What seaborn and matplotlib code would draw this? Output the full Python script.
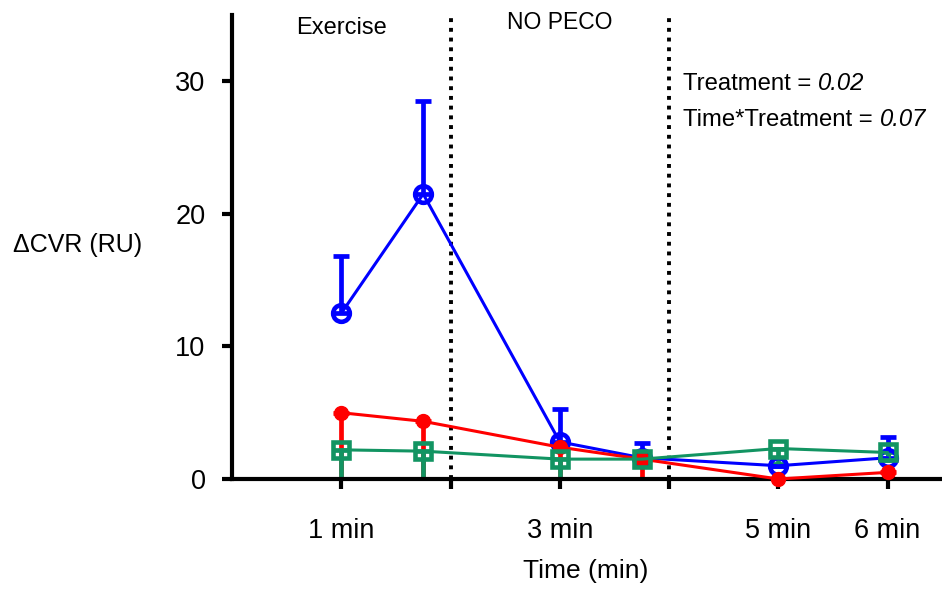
import numpy as np
import pandas as pd
import matplotlib
matplotlib.use("Agg")
import matplotlib.pyplot as plt
import seaborn as sns

# Time points (min) and tick labels
time = [1, 1.75, 3, 3.75, 5, 6]
tick_pos = [1, 2, 3, 4, 5, 6]
tick_labels = ["1 min", "", "3 min", "", "5 min", "6 min"]

# Mean change in CVR per condition, with one-sided error bars
blue_mean = [12.5, 21.5, 2.8, 1.6, 1.0, 1.6]
blue_err_up = [4.3, 7.0, 2.5, 1.1, 0.0, 1.6]

red_mean = [5.0, 4.35, 2.4, 1.5, 0.0, 0.5]
red_err_down = [5.0, 4.35, 2.4, 1.5, 0.0, 0.5]

green_mean = [2.2, 2.1, 1.5, 1.5, 2.3, 2.0]
green_err_down = [2.2, 2.1, 1.5, 0.5, 1.2, 0.6]

BLUE = "#0000FF"
RED = "#FF0000"
GREEN = "#129462"

sns.set_style("ticks")
plt.rcParams["font.family"] = ["Liberation Sans", "DejaVu Sans"]
plt.rcParams["text.color"] = "black"
plt.rcParams["axes.labelcolor"] = "black"
plt.rcParams["xtick.color"] = "black"
plt.rcParams["ytick.color"] = "black"
plt.rcParams["axes.edgecolor"] = "black"

fig = plt.figure(figsize=(9.42, 5.89), dpi=100)
ax = fig.add_axes([232 / 942, 1 - 479 / 589, (940 - 232) / 942, (479 - 15) / 589])

zero = [0] * len(time)

# Error bars (drawn under the axis line so caps at zero are hidden)
err_kw = dict(fmt="none", elinewidth=3.4, capsize=6, capthick=3.4, zorder=2)
ax.errorbar(time, blue_mean, yerr=[zero, blue_err_up], ecolor=BLUE, **err_kw)
ax.errorbar(time, red_mean, yerr=[red_err_down, zero], ecolor=RED, **err_kw)
ax.errorbar(time, green_mean, yerr=[green_err_down, zero], ecolor=GREEN, **err_kw)

df_blue = pd.DataFrame({"time": time, "value": blue_mean})
df_red = pd.DataFrame({"time": time, "value": red_mean})
df_green = pd.DataFrame({"time": time, "value": green_mean})

sns.lineplot(data=df_blue, x="time", y="value", ax=ax, color=BLUE, lw=2.2,
             marker="o", markersize=12, markerfacecolor="none", markeredgecolor=BLUE,
             markeredgewidth=3.3, sort=False, zorder=4, clip_on=False)
sns.lineplot(data=df_red, x="time", y="value", ax=ax, color=RED, lw=2.2,
             marker="o", markersize=10, markerfacecolor=RED, markeredgecolor=RED,
             markeredgewidth=1, sort=False, zorder=5, clip_on=False)
sns.lineplot(data=df_green, x="time", y="value", ax=ax, color=GREEN, lw=2.2,
             marker="s", markersize=11, markerfacecolor="none", markeredgecolor=GREEN,
             markeredgewidth=3.3, sort=False, zorder=6, clip_on=False)

# Phase separators
for xv in (2, 4):
    ax.axvline(xv, color="black", lw=2.8, linestyle=(0, (1, 1.5)), zorder=1)

ax.set_xlim(0, 6.48)
ax.set_ylim(0, 35)
ax.set_xticks(tick_pos)
ax.set_xticklabels(tick_labels)
ax.set_yticks([0, 10, 20, 30])

for side in ("top", "right"):
    ax.spines[side].set_visible(False)
for side in ("left", "bottom"):
    ax.spines[side].set_linewidth(3)
    ax.spines[side].set_color("black")
    ax.spines[side].set_zorder(3)

ax.tick_params(axis="both", which="major", direction="out", length=7, width=3,
               labelsize=19.5, color="black")
ax.tick_params(axis="x", pad=21)
ax.tick_params(axis="y", pad=12)

ax.set_xlabel("Time (min)", fontsize=19, labelpad=11)
ax.set_ylabel("")
fig.text(13 / 942, 1 - 245 / 589, "\u0394CVR (RU)", fontsize=18, ha="left", va="center")

ax.text(1, 34.0, "Exercise", fontsize=17, ha="center", va="center")
ax.text(3, 34.4, "NO PECO", fontsize=16.5, ha="center", va="center")

# Statistics, with the p-values in italics
t1 = ax.text(4.13, 29.8, "Treatment = ", fontsize=17.2, ha="left", va="center")
ax.annotate("0.02", xy=(1, 0), xycoords=t1, fontsize=17.2, ha="left", va="bottom",
            style="italic")
t2 = ax.text(4.13, 27.05, "Time*Treatment = ", fontsize=17.2, ha="left", va="center")
ax.annotate("0.07", xy=(1, 0), xycoords=t2, fontsize=17.2, ha="left", va="bottom",
            style="italic")

fig.savefig("out.png", dpi=100, facecolor="white")
